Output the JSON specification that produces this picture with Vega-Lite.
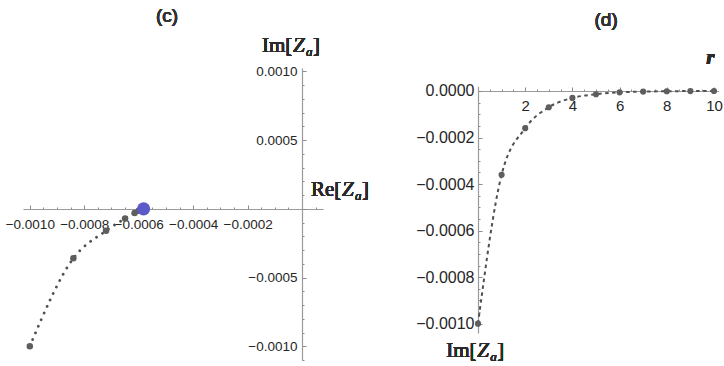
{
  "$schema": "https://vega.github.io/schema/vega-lite/v6.json",
  "width": 724,
  "height": 366,
  "autosize": {"type": "none"},
  "padding": 0,
  "background": "white",
  "config": {
    "view": {"stroke": null},
    "axis": {
      "grid": false,
      "title": null,
      "domainColor": "#9a9a9a",
      "domainWidth": 1.2,
      "tickColor": "#8a8a8a",
      "tickWidth": 1,
      "labelFont": "Liberation Sans",
      "labelFontSize": 13.5,
      "labelColor": "#262626",
      "labelOverlap": false,
      "labelFlush": false,
      "labelBound": false
    },
    "text": {"font": "Liberation Serif", "fontSize": 21, "fontWeight": "normal", "color": "#2a2a2a", "baseline": "alphabetic", "align": "left"}
  },
  "datasets": {
    "za": [
      {"r": 0, "re": -0.001, "im": -0.001},
      {"r": 1, "re": -0.00084, "im": -0.00036},
      {"r": 2, "re": -0.00072, "im": -0.00016},
      {"r": 3, "re": -0.00065, "im": -0.00007},
      {"r": 4, "re": -0.000615, "im": -0.00003},
      {"r": 5, "re": -0.0006, "im": -0.000014},
      {"r": 6, "re": -0.000592, "im": -0.000006},
      {"r": 7, "re": -0.000587, "im": -0.0000028},
      {"r": 8, "re": -0.000585, "im": -0.0000012},
      {"r": 9, "re": -0.000583, "im": -0.0000005},
      {"r": 10, "re": -0.000582, "im": -0.0000002}
    ]
  },
  "data": {"name": "za"},
  "layer": [
    {
      "encoding": {
        "x": {
          "field": "re",
          "type": "quantitative",
          "scale": {"domain": [-0.001025, 0.000077], "range": [23, 323], "nice": false, "zero": false},
          "axis": {
            "orient": "bottom",
            "offset": -157,
            "values": [-0.001, -0.00095, -0.0009, -0.00085, -0.0008, -0.00075, -0.0007, -0.00065, -0.0006, -0.00055, -0.0005, -0.00045, -0.0004, -0.00035, -0.0003, -0.00025, -0.0002, -0.00015, -0.0001, -0.00005, 0, 0.00005],
            "labelExpr": "abs(datum.value / 0.0002 - round(datum.value / 0.0002)) < 0.01 && abs(datum.value) > 1e-9 ? format(datum.value, '.4f') : ''",
            "tickSize": {"condition": {"test": "abs(datum.value / 0.0002 - round(datum.value / 0.0002)) < 0.01", "value": -4}, "value": -2},
            "labelPadding": 12
          }
        },
        "y": {
          "field": "im",
          "type": "quantitative",
          "scale": {"domain": [-0.0011, 0.001025], "range": [360, 68], "nice": false, "zero": false},
          "axis": {
            "orient": "left",
            "offset": -302,
            "values": [-0.0011, -0.001, -0.0009, -0.0008, -0.0007, -0.0006, -0.0005, -0.0004, -0.0003, -0.0002, -0.0001, 0, 0.0001, 0.0002, 0.0003, 0.0004, 0.0005, 0.0006, 0.0007, 0.0008, 0.0009, 0.001],
            "labelExpr": "abs(datum.value / 0.0005 - round(datum.value / 0.0005)) < 0.01 && abs(datum.value) > 1e-9 ? format(datum.value, '.4f') : ''",
            "tickSize": {"condition": {"test": "abs(datum.value / 0.0005 - round(datum.value / 0.0005)) < 0.01", "value": -4}, "value": -2},
            "labelPadding": 9
          }
        }
      },
      "layer": [
        {
          "mark": {"type": "line", "interpolate": "monotone", "color": "#505050", "strokeWidth": 2.8, "strokeCap": "round", "strokeDash": [0.01, 7.2]},
          "encoding": {"order": {"field": "r", "type": "quantitative"}}
        },
        {
          "mark": {"type": "point", "filled": true, "size": 42, "color": "#5e5e5e", "opacity": 1}
        },
        {
          "transform": [{"filter": "datum.r == 10"}],
          "mark": {"type": "point", "filled": true, "size": 175, "color": "#5a5ac8", "opacity": 1}
        },
        {
          "mark": {"type": "text", "font": "Liberation Sans", "fontSize": 19, "align": "center", "baseline": "middle", "color": "#333333"},
          "encoding": {"x": {"datum": -0.000496}, "y": {"datum": 0.001405}, "text": {"value": "(c)"}}
        },
        {
          "mark": {"type": "text", "dx": -40},
          "encoding": {"x": {"datum": 0}, "y": {"datum": 0.00114}, "text": {"value": "Im["}}
        },
        {
          "mark": {"type": "text", "dx": -9, "fontStyle": "italic"},
          "encoding": {"x": {"datum": 0}, "y": {"datum": 0.00114}, "text": {"value": "Z"}}
        },
        {
          "mark": {"type": "text", "dx": 4, "dy": 4, "fontSize": 13, "fontStyle": "italic"},
          "encoding": {"x": {"datum": 0}, "y": {"datum": 0.00114}, "text": {"value": "a"}}
        },
        {
          "mark": {"type": "text", "dx": 11},
          "encoding": {"x": {"datum": 0}, "y": {"datum": 0.00114}, "text": {"value": "]"}}
        },
        {
          "mark": {"type": "text", "dx": 0},
          "encoding": {"x": {"datum": 0.000033}, "y": {"datum": 0.000095}, "text": {"value": "Re["}}
        },
        {
          "mark": {"type": "text", "dx": 31, "fontStyle": "italic"},
          "encoding": {"x": {"datum": 0.000033}, "y": {"datum": 0.000095}, "text": {"value": "Z"}}
        },
        {
          "mark": {"type": "text", "dx": 44, "dy": 4, "fontSize": 13, "fontStyle": "italic"},
          "encoding": {"x": {"datum": 0.000033}, "y": {"datum": 0.000095}, "text": {"value": "a"}}
        },
        {
          "mark": {"type": "text", "dx": 51},
          "encoding": {"x": {"datum": 0.000033}, "y": {"datum": 0.000095}, "text": {"value": "]"}}
        }
      ]
    },
    {
      "encoding": {
        "x": {
          "field": "r",
          "type": "quantitative",
          "scale": {"domain": [0, 10.2], "range": [478, 718.7], "nice": false, "zero": false},
          "axis": {
            "orient": "bottom",
            "offset": -275,
            "values": [0.5, 1, 1.5, 2, 2.5, 3, 3.5, 4, 4.5, 5, 5.5, 6, 6.5, 7, 7.5, 8, 8.5, 9, 9.5, 10],
            "labelExpr": "datum.value % 2 == 0 ? format(datum.value, 'd') : ''",
            "tickSize": {"condition": {"test": "datum.value % 2 == 0", "value": -4}, "value": -2},
            "labelPadding": 11,
            "labelFontSize": 15
          }
        },
        "y": {
          "field": "im",
          "type": "quantitative",
          "scale": {"domain": [-0.00104, 0.00002], "range": [333, 86.3], "nice": false, "zero": false},
          "axis": {
            "orient": "left",
            "offset": -478,
            "values": [-0.001, -0.00095, -0.0009, -0.00085, -0.0008, -0.00075, -0.0007, -0.00065, -0.0006, -0.00055, -0.0005, -0.00045, -0.0004, -0.00035, -0.0003, -0.00025, -0.0002, -0.00015, -0.0001, -0.00005, 0],
            "labelExpr": "abs(datum.value / 0.0002 - round(datum.value / 0.0002)) < 0.01 ? format(datum.value, '.4f') : ''",
            "tickSize": {"condition": {"test": "abs(datum.value / 0.0002 - round(datum.value / 0.0002)) < 0.01", "value": -4}, "value": -2},
            "labelPadding": 8,
            "labelFontSize": 16
          }
        }
      },
      "layer": [
        {
          "mark": {"type": "line", "interpolate": "monotone", "color": "#505050", "strokeWidth": 2, "strokeDash": [3.5, 3.5]}
        },
        {
          "mark": {"type": "point", "filled": true, "size": 38, "color": "#5e5e5e", "opacity": 1}
        },
        {
          "mark": {"type": "text", "font": "Liberation Sans", "fontSize": 19, "align": "center", "baseline": "middle", "color": "#333333"},
          "encoding": {"x": {"datum": 5.43}, "y": {"datum": 0.000305}, "text": {"value": "(d)"}}
        },
        {
          "mark": {"type": "text", "align": "center", "fontStyle": "italic", "fontWeight": "bold"},
          "encoding": {"x": {"datum": 9.85}, "y": {"datum": 0.000116}, "text": {"value": "r"}}
        },
        {
          "mark": {"type": "text", "dx": 0},
          "encoding": {"x": {"datum": -1.35}, "y": {"datum": -0.001143}, "text": {"value": "Im["}}
        },
        {
          "mark": {"type": "text", "dx": 31, "fontStyle": "italic"},
          "encoding": {"x": {"datum": -1.35}, "y": {"datum": -0.001143}, "text": {"value": "Z"}}
        },
        {
          "mark": {"type": "text", "dx": 44, "dy": 4, "fontSize": 13, "fontStyle": "italic"},
          "encoding": {"x": {"datum": -1.35}, "y": {"datum": -0.001143}, "text": {"value": "a"}}
        },
        {
          "mark": {"type": "text", "dx": 51},
          "encoding": {"x": {"datum": -1.35}, "y": {"datum": -0.001143}, "text": {"value": "]"}}
        }
      ]
    }
  ],
  "resolve": {
    "scale": {"x": "independent", "y": "independent"},
    "axis": {"x": "independent", "y": "independent"}
  }
}
